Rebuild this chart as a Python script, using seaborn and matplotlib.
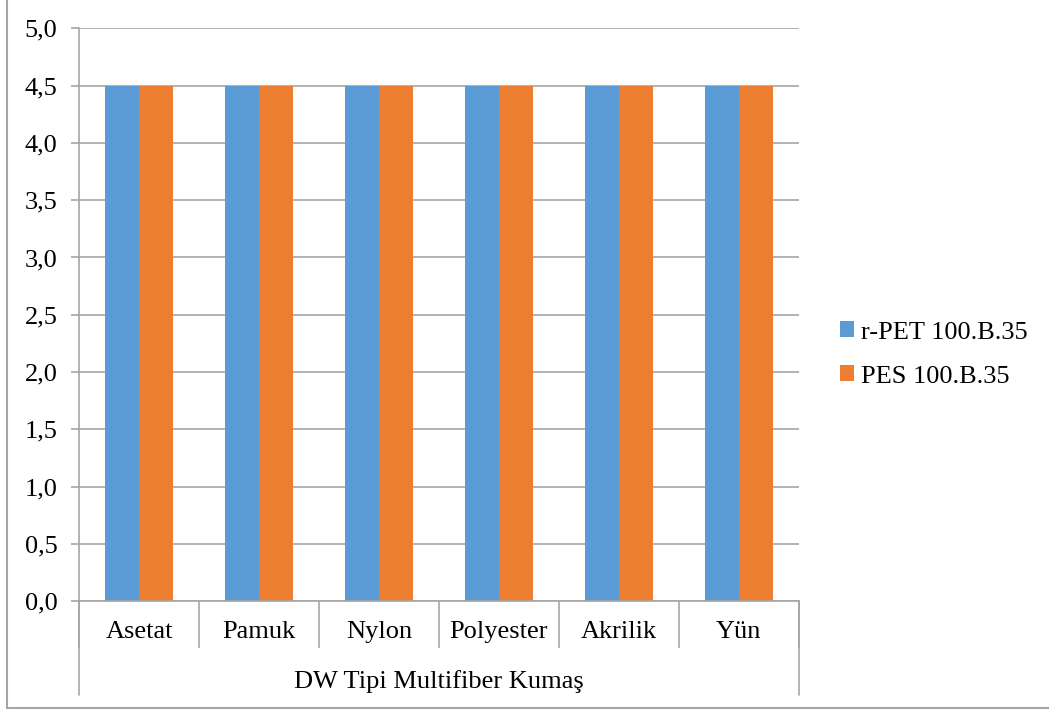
import matplotlib
matplotlib.use("Agg")
import matplotlib.pyplot as plt
import matplotlib.transforms as mtransforms
from matplotlib import font_manager
from matplotlib.lines import Line2D
from matplotlib.patches import Patch
import numpy as np
import pandas as pd
import seaborn as sns

# Multifiber fabric components and staining ratings for each sample
fibers = ["Asetat", "Pamuk", "Nylon", "Polyester", "Akrilik", "Yün"]
rpet_values = [4.5, 4.5, 4.5, 4.5, 4.5, 4.5]
pes_values = [4.5, 4.5, 4.5, 4.5, 4.5, 4.5]
series_names = ["r-PET 100.B.35", "PES 100.B.35"]
group_label = "DW Tipi Multifiber Kumaş"
y_ticks = [0.0, 0.5, 1.0, 1.5, 2.0, 2.5, 3.0, 3.5, 4.0, 4.5, 5.0]

colors = ["#5B9BD5", "#ED7D31"]
grid_gray = "#A6A6A6"
FS = 19

df = pd.DataFrame({
    "fiber": fibers * 2,
    "value": rpet_values + pes_values,
    "series": [series_names[0]] * len(fibers) + [series_names[1]] * len(fibers),
})

sns.set_style("white")
plt.rcParams["font.family"] = ["Liberation Serif", "DejaVu Serif"]
plt.rcParams["font.size"] = FS
plt.rcParams["text.color"] = "black"
plt.rcParams["xtick.color"] = "black"
plt.rcParams["ytick.color"] = "black"

serif_path = font_manager.findfont(font_manager.FontProperties(family="Liberation Serif"))
fp = font_manager.FontProperties(fname=serif_path, size=FS)

W, H = 1049, 713
fig = plt.figure(figsize=(W / 100, H / 100), dpi=100)
ax = fig.add_axes([79.3 / W, 1 - 601.3 / H, (798.5 - 79.3) / W, (601.3 - 28.3) / H])

sns.barplot(data=df, x="fiber", y="value", hue="series", order=fibers,
            hue_order=series_names, palette=colors, width=0.568,
            linewidth=0, saturation=1, ax=ax, legend=False)

ax.set_xlim(-0.5, len(fibers) - 0.5)
ax.set_ylim(0, 5)
ax.set_yticks(y_ticks)
ax.set_yticklabels([f"{t:.1f}".replace(".", ",") for t in y_ticks])
ax.yaxis.grid(True, color=grid_gray, linewidth=1.2)
ax.set_axisbelow(True)
ax.set_xlabel("")
ax.set_ylabel("")

for side in ["top", "right"]:
    ax.spines[side].set_visible(False)
for side in ["left", "bottom"]:
    ax.spines[side].set_color(grid_gray)
    ax.spines[side].set_linewidth(1.2)

ax.tick_params(axis="y", length=8 * 0.72, width=1.2, color=grid_gray,
               labelcolor="black", direction="out", pad=10, left=True)

# Category labels centred in each slot; dividers drawn as minor ticks
ax.set_xticks(range(len(fibers)))
ax.set_xticklabels(fibers)
ax.tick_params(axis="x", which="major", length=0, pad=14, labelcolor="black")
ax.set_xticks(np.arange(-0.5, len(fibers), 1.0), minor=True)
ax.tick_params(axis="x", which="minor", length=47 * 0.72, width=1.2,
               color=grid_gray, direction="out", bottom=True)

for lbl in ax.get_xticklabels() + ax.get_yticklabels():
    lbl.set_fontproperties(fp)

# Outer group brackets and group label
trans = mtransforms.blended_transform_factory(ax.transData, ax.transAxes)
drop = (695 - 601.3) / (601.3 - 28.3)
for xb in [-0.5, len(fibers) - 0.5]:
    ax.add_line(Line2D([xb, xb], [0, -drop], transform=trans, color=grid_gray,
                       linewidth=1.2, clip_on=False))
ax.text((len(fibers) - 1) / 2, -(688 - 601.3) / (601.3 - 28.3), group_label,
        transform=trans, ha="center", va="baseline", fontproperties=fp,
        color="black")

# Legend on the right
handles = [Patch(facecolor=c, edgecolor="none") for c in colors]
fig.legend(handles, series_names, loc="center left",
           bbox_to_anchor=(840 / W, 1 - 354.5 / H), frameon=False,
           prop=fp, labelcolor="black",
           handlelength=0.53, handleheight=0.53,
           handletextpad=0.25, labelspacing=0.83, borderpad=0, borderaxespad=0)

# Chart area border
fig.add_artist(Line2D([6.5 / W, 6.5 / W], [5 / H, 1.01], transform=fig.transFigure,
                      color=grid_gray, linewidth=1.5))
fig.add_artist(Line2D([6.5 / W, 1.01], [5 / H, 5 / H], transform=fig.transFigure,
                      color=grid_gray, linewidth=1.5))

fig.savefig("out.png", dpi=100, facecolor="white")
